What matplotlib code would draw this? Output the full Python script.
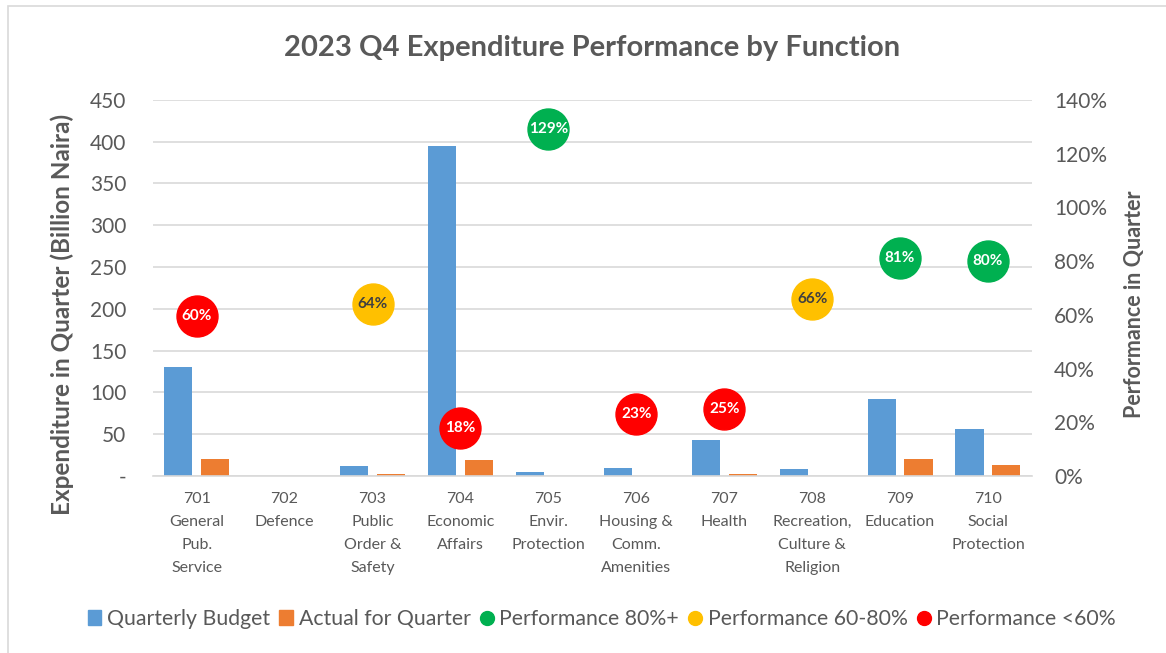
import matplotlib
matplotlib.use('Agg')
import matplotlib.pyplot as plt
from matplotlib.lines import Line2D
from matplotlib.patches import Patch, Rectangle
from matplotlib.ticker import FuncFormatter
import numpy as np

plt.rcParams['font.family'] = ['Lato', 'DejaVu Sans']

# ----------------------------------------------------------------------
# data
categories = ['701\nGeneral\nPub.\nService', '702\nDefence', '703\nPublic\nOrder &\nSafety',
              '704\nEconomic\nAffairs', '705\nEnvir.\nProtection', '706\nHousing &\nComm.\nAmenities',
              '707\nHealth', '708\nRecreation,\nCulture &\nReligion', '709\nEducation',
              '710\nSocial\nProtection']
budget = [131, 0, 12, 395, 5, 9.5, 43, 8, 92, 56]
actual = [20, 0, 3, 19, 0.5, 0.3, 3, 0.3, 20, 13]
performance = [59.6, None, 64, 18, 129, 23, 25, 66, 81, 80]

BLUE = '#5B9BD5'
ORANGE = '#ED7D31'
GREEN = '#00B050'
YELLOW = '#FFC000'
RED = '#FF0000'
GRAY = '#595959'


def band_color(p):
    if p >= 80:
        return GREEN
    if p >= 60:
        return YELLOW
    return RED


fig = plt.figure(figsize=(11.66, 6.53), dpi=100)
ax = fig.add_axes([0.131, 0.271, 0.754, 0.576])
ax2 = ax.twinx()

x = np.arange(len(categories))
w = 0.32
ax.bar(x - 0.21, budget, w, color=BLUE, zorder=2)
ax.bar(x + 0.21, actual, w, color=ORANGE, zorder=2)

ax.set_xlim(-0.5, len(categories) - 0.5)
ax.set_ylim(0, 450)
ax.set_yticks(np.arange(0, 451, 50))
ax.yaxis.set_major_formatter(FuncFormatter(lambda v, _: '-' if v == 0 else '%d' % v))
ax.grid(axis='y', color='#D9D9D9', linewidth=1.2, zorder=0)
ax.set_axisbelow(True)
ax.set_xticks(x)
ax.set_xticklabels(categories, fontsize=11.5, color=GRAY, linespacing=1.83, va='top')

ax2.set_ylim(0, 140)
ax2.set_yticks(np.arange(0, 141, 20))
ax2.yaxis.set_major_formatter(FuncFormatter(lambda v, _: '%d%%' % v))

for a in (ax, ax2):
    for s in a.spines.values():
        s.set_visible(False)
    a.tick_params(length=0, colors=GRAY, labelsize=15)
ax.spines['bottom'].set_visible(True)
ax.spines['bottom'].set_color('#D9D9D9')
ax.spines['bottom'].set_linewidth(1.2)
ax.tick_params(axis='y', pad=19)
ax.tick_params(axis='x', pad=11.5, labelsize=11.5)
ax2.tick_params(axis='y', pad=16)

for xi, p in zip(x, performance):
    if p is None:
        continue
    c = band_color(p)
    ax2.plot(xi, p, 'o', color=c, markersize=29.5, zorder=3, clip_on=False)
    ax2.text(xi, p, '%.0f%%' % p, ha='center', va='center', fontsize=11, weight='bold',
             color='#404040' if c == YELLOW else 'white', zorder=4)

# axis titles placed directly in figure pixels
fig.text(62 / 1166, 1 - 314 / 653, 'Expenditure in Quarter (Billion Naira)', rotation=90,
         ha='center', va='center', fontsize=17.5, weight='bold', color=GRAY)
fig.text(1135 / 1166, 1 - 304 / 653, 'Performance in Quarter', rotation=90,
         ha='center', va='center', fontsize=15.5, weight='bold', color=GRAY)
fig.text(0.508, 0.927, '2023 Q4 Expenditure Performance by Function', ha='center', va='center',
         fontsize=21, weight='bold', color=GRAY)

handles = [
    Patch(color=BLUE, label='Quarterly Budget'),
    Patch(color=ORANGE, label='Actual for Quarter'),
    Line2D([], [], marker='o', ls='', color=GREEN, markersize=10, label='Performance 80%+'),
    Line2D([], [], marker='o', ls='', color=YELLOW, markersize=10, label='Performance 60-80%'),
    Line2D([], [], marker='o', ls='', color=RED, markersize=10, label='Performance <60%'),
]
leg = fig.legend(handles=handles, loc='center', bbox_to_anchor=(0.516, 0.052), ncol=5, frameon=False,
                 fontsize=15.3, handlelength=0.65, handleheight=0.65, handletextpad=0.25, columnspacing=0.45)
for t in leg.get_texts():
    t.set_color(GRAY)

fig.patches.append(Rectangle((8 / 1166, -0.02), 1.1, 1 - 6 / 653 + 0.02, transform=fig.transFigure,
                             fill=False, edgecolor='#D9D9D9', linewidth=1.2))

fig.savefig('out.png', dpi=100)
